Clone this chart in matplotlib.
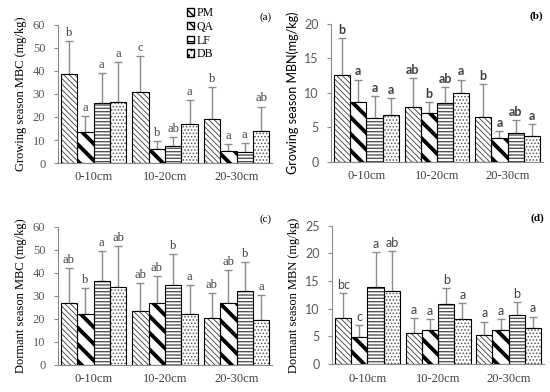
import matplotlib
matplotlib.use('Agg')
import matplotlib.pyplot as plt
from matplotlib.patches import Patch
import numpy as np

# Depth classes and species
depths = ['0-10cm', '10-20cm', '20-30cm']
species = ['PM', 'QA', 'LF', 'DB']

# (a) Growing season MBC
a_mean = {'PM': [38.5, 30.8, 19.0], 'QA': [13.3, 6.2, 5.3],
          'LF': [26.0, 7.5, 4.8], 'DB': [26.5, 17.0, 14.0]}
a_err = {'PM': [14.3, 15.7, 14.0], 'QA': [7.2, 3.3, 3.0],
         'LF': [13.0, 3.7, 3.9], 'DB': [17.5, 10.5, 10.5]}
a_lab = {'PM': ['b', 'c', 'b'], 'QA': ['a', 'b', 'a'],
         'LF': ['a', 'ab', 'a'], 'DB': ['a', 'a', 'ab']}

# (b) Growing season MBN
b_mean = {'PM': [12.5, 8.0, 6.5], 'QA': [8.6, 7.0, 3.4],
          'LF': [6.4, 8.5, 4.2], 'DB': [6.8, 10.0, 3.8]}
b_err = {'PM': [5.4, 4.1, 4.7], 'QA': [3.3, 1.7, 1.1],
         'LF': [3.1, 2.3, 1.8], 'DB': [2.4, 1.9, 1.7]}
b_lab = {'PM': ['b', 'ab', 'b'], 'QA': ['a', 'b', 'a'],
         'LF': ['a', 'ab', 'ab'], 'DB': ['a', 'a', 'a']}

# (c) Dormant season MBC
c_mean = {'PM': [27.0, 23.5, 20.5], 'QA': [22.0, 27.0, 27.0],
          'LF': [36.5, 34.5, 32.0], 'DB': [34.0, 22.0, 19.5]}
c_err = {'PM': [15.0, 12.0, 10.5], 'QA': [11.5, 11.5, 14.0],
         'LF': [12.8, 13.5, 12.8], 'DB': [17.5, 12.7, 10.8]}
c_lab = {'PM': ['ab', 'ab', 'ab'], 'QA': ['b', 'ab', 'ab'],
         'LF': ['a', 'b', 'b'], 'DB': ['ab', 'a', 'a']}

# (d) Dormant season MBN
d_mean = {'PM': [8.4, 5.7, 5.3], 'QA': [4.9, 6.1, 6.2],
          'LF': [13.9, 10.9, 8.9], 'DB': [13.3, 8.2, 6.5]}
d_err = {'PM': [4.5, 2.6, 2.4], 'QA': [2.1, 2.1, 1.9],
         'LF': [6.3, 2.9, 2.3], 'DB': [7.2, 2.9, 2.1]}
d_lab = {'PM': ['bc', 'a', 'a'], 'QA': ['c', 'a', 'a'],
         'LF': ['a', 'b', 'b'], 'DB': ['ab', 'a', 'a']}

styles = {
    'PM': dict(hatch='\\' * 6, hc='#3a3a3a', hlw=0.6),
    'QA': dict(hatch='\\' * 2, hc='black', hlw=2.8),
    'LF': dict(hatch='-' * 5, hc='#555555', hlw=1.0),
    'DB': dict(hatch='.' * 5, hc='#555555', hlw=0.7),
}

grey = '#595959'
serif = 'Liberation Serif'
sans = 'Lato'

fig = plt.figure(figsize=(5.5, 3.92), dpi=100)


def draw(rect, mean, err, lab, ymax, ystep, ylabel, tag, tick_font, ylab_font,
         let_font, let_weight):
    ax = fig.add_axes(rect)
    x = np.arange(len(depths))
    w = 0.23
    for i, sp in enumerate(species):
        st = styles[sp]
        pos = x + (i - 1.5) * w
        with plt.rc_context({'hatch.linewidth': st['hlw']}):
            bars = ax.bar(pos, mean[sp], w, color='white', edgecolor=st['hc'],
                          hatch=st['hatch'], linewidth=0, zorder=2)
        for b in bars:
            if hasattr(b, 'set_hatch_linewidth'):
                b.set_hatch_linewidth(st['hlw'])
        ax.bar(pos, mean[sp], w, fill=False, edgecolor='black', linewidth=0.8,
               zorder=3)
        ax.errorbar(pos, mean[sp], yerr=[np.zeros(3), err[sp]], fmt='none',
                    ecolor='#8c8c8c', elinewidth=1.0, capsize=3, capthick=1.0,
                    zorder=1)
        for p, m, e, l in zip(pos, mean[sp], err[sp], lab[sp]):
            ax.text(p, m + e + ymax * 0.015, l, ha='center', va='bottom',
                    fontsize=9, family=let_font, fontweight=let_weight,
                    color='#404040')
    ax.set_xlim(-0.5, 2.5)
    ax.set_ylim(0, ymax)
    ax.set_yticks(np.arange(0, ymax + 0.1, ystep))
    ax.set_xticks(x)
    ax.set_xticklabels(depths, family=serif, fontsize=9, color='#404040')
    for t in ax.get_yticklabels():
        t.set_family(tick_font)
        t.set_fontsize(9)
        t.set_color(grey)
    ax.tick_params(axis='x', length=0, pad=6)
    ax.tick_params(axis='y', length=3, color='#8c8c8c', pad=6)
    ax.spines['top'].set_visible(False)
    ax.spines['right'].set_visible(False)
    ax.spines['left'].set_color('#8c8c8c')
    ax.spines['bottom'].set_color('#8c8c8c')
    ax.set_ylabel(ylabel, family=ylab_font, fontsize=9, color='black',
                  labelpad=4)
    ax.text(0.97, 1.02, tag, transform=ax.transAxes, ha='center',
            va='bottom', family=serif, fontsize=8,
            fontweight='bold' if tag in ('(b)', '(d)') else 'normal')
    return ax


W = 0.39
H = 0.353
ax_a = draw([0.105, 0.584, W, H], a_mean, a_err, a_lab, 60, 10,
            'Growing season MBC (mg/kg)', '(a)', serif, serif, serif, 'normal')
ax_b = draw([0.602, 0.587, 0.385, H], b_mean, b_err, b_lab, 20, 5,
            'Growing season MBN(mg/kg)', '(b)', sans, sans, sans, 'bold')
ax_c = draw([0.105, 0.069, W, H], c_mean, c_err, c_lab, 60, 10,
            'Dormant season MBC (mg/kg)', '(c)', serif, serif, serif, 'normal')
ax_d = draw([0.604, 0.071, 0.385, H], d_mean, d_err, d_lab, 25, 5,
            'Dormant season MBN (mg/kg)', '(d)', sans, serif, sans, 'normal')

with plt.rc_context({'hatch.linewidth': 1.2}):
    handles = [Patch(facecolor='white', edgecolor='black',
                     hatch=styles[sp]['hatch'][:3]) for sp in species]
fig.legend(handles, species, loc='upper left', bbox_to_anchor=(0.327, 1.0),
           frameon=False, prop={'family': serif, 'size': 8.5},
           handlelength=0.6, handleheight=0.6, handletextpad=0.2,
           labelspacing=0.15, borderaxespad=0.2)

fig.savefig('out.png', dpi=100)
